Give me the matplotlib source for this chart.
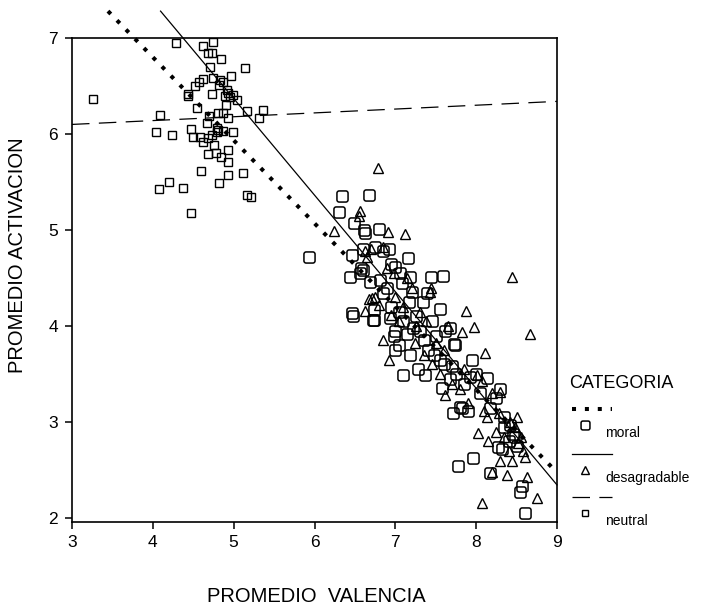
import numpy as np
import matplotlib
matplotlib.use("Agg")
import matplotlib.pyplot as plt
from matplotlib.path import Path

plt.rcParams['font.family'] = ['Liberation Sans', 'DejaVu Sans']

# ---- data ------------------------------------------------------------------
moral_x = [6.34, 6.67, 6.30, 6.49, 6.61, 6.62, 6.80, 5.93, 6.46, 6.44, 6.56, 6.69,
           6.81, 7.06, 7.16, 7.18, 6.60, 6.75, 6.85, 6.58, 6.60, 6.92, 6.95, 7.00,
           7.44, 7.59, 7.39, 7.55, 7.68, 7.73, 6.46, 6.48, 6.72, 6.85, 6.95, 6.73,
           6.73, 6.94, 7.08, 7.20, 7.17, 7.34, 7.05, 7.10, 7.25, 7.45, 7.00, 7.15,
           7.30, 7.50, 7.62, 7.74, 7.95, 7.10, 7.37, 7.18, 7.40, 7.58, 7.68, 7.92,
           8.00, 7.80, 8.13, 7.71, 7.83, 7.90, 8.17, 8.35, 8.35, 8.42, 8.27, 8.32,
           7.96, 7.78, 8.17, 8.57, 8.54, 8.60, 8.45, 8.48, 8.40, 8.50, 7.00, 7.05,
           6.98, 7.22, 7.35, 7.48, 7.60, 7.70, 7.85, 7.75, 8.05, 8.25, 8.30, 6.90,
           7.28, 7.55]
moral_y = [5.35, 5.37, 5.19, 5.07, 5.00, 4.97, 5.01, 4.72, 4.74, 4.51, 4.55, 4.46,
           4.48, 4.55, 4.71, 4.51, 4.80, 4.82, 4.78, 4.60, 4.58, 4.80, 4.65, 4.62,
           4.51, 4.52, 4.34, 4.18, 3.98, 3.81, 4.14, 4.10, 4.06, 4.34, 4.20, 4.17,
           4.06, 4.08, 4.45, 4.36, 4.25, 4.25, 4.15, 4.05, 4.10, 4.05, 3.95, 3.92,
           3.95, 3.90, 3.95, 3.80, 3.65, 3.49, 3.49, 3.70, 3.75, 3.36, 3.45, 3.47,
           3.50, 3.16, 3.46, 3.09, 3.15, 3.12, 3.15, 3.05, 2.95, 2.97, 2.74, 2.72,
           2.63, 2.54, 2.47, 2.33, 2.27, 2.05, 2.88, 2.84, 2.80, 2.75, 3.75, 3.80,
           3.90, 3.98, 3.85, 3.70, 3.60, 3.58, 3.40, 3.50, 3.30, 3.25, 3.35, 4.40,
           3.55, 3.65]

desag_x = [6.79, 6.56, 6.55, 6.24, 6.91, 7.12, 6.90, 6.65, 6.70, 6.62, 6.85, 6.62,
           6.68, 6.75, 6.71, 6.80, 7.43, 7.44, 7.87, 7.97, 7.83, 7.65, 6.85, 6.92,
           7.24, 7.50, 7.61, 8.01, 8.07, 8.30, 7.90, 8.10, 8.14, 8.28, 8.42, 8.02,
           8.52, 8.40, 8.44, 8.63, 8.75, 8.07, 8.20, 8.60, 8.44, 8.67, 8.11, 7.00,
           7.10, 7.20, 7.25, 7.30, 7.05, 6.95, 7.35, 7.45, 7.55, 7.60, 7.70, 7.80,
           7.85, 8.20, 8.25, 8.35, 8.48, 8.55, 8.58, 8.30, 8.38, 7.15, 6.98, 7.38,
           8.50, 8.15]
desag_y = [5.65, 5.20, 5.15, 4.99, 4.98, 4.96, 4.60, 4.72, 4.80, 4.78, 4.82, 4.16,
           4.28, 4.30, 4.29, 4.22, 4.35, 4.40, 4.16, 3.99, 3.94, 4.00, 3.86, 3.65,
           3.82, 3.82, 3.28, 3.49, 3.43, 3.31, 3.20, 3.12, 3.05, 3.10, 3.00, 2.89,
           2.78, 2.70, 2.60, 2.43, 2.21, 2.16, 2.48, 2.64, 4.51, 3.92, 3.72, 4.30,
           4.20, 4.40, 4.00, 4.15, 4.05, 4.12, 3.70, 3.60, 3.50, 3.75, 3.40, 3.35,
           3.55, 3.30, 2.90, 2.85, 2.95, 2.85, 2.70, 2.60, 2.45, 4.50, 4.55, 4.05,
           3.05, 2.80]

neutral_x = [4.29, 4.62, 4.74, 4.68, 4.73, 4.84, 5.14, 4.71, 4.97, 4.74, 4.62, 4.57,
             4.52, 4.83, 4.87, 4.82, 4.44, 4.43, 4.73, 4.92, 4.93, 4.89, 4.95, 4.99,
             5.04, 4.91, 3.26, 4.55, 5.16, 5.36, 5.31, 4.09, 4.70, 4.81, 4.87, 4.93,
             4.67, 4.79, 4.81, 4.87, 4.99, 4.47, 4.04, 4.24, 4.50, 4.58, 4.62, 4.68,
             4.73, 4.79, 4.76, 4.93, 4.68, 4.78, 4.84, 4.93, 4.60, 5.12, 4.93, 4.82,
             4.20, 4.08, 4.37, 5.16, 5.21, 4.47]
neutral_y = [6.95, 6.92, 6.96, 6.84, 6.84, 6.78, 6.69, 6.70, 6.60, 6.58, 6.57, 6.54,
             6.50, 6.56, 6.54, 6.51, 6.42, 6.40, 6.42, 6.46, 6.43, 6.40, 6.39, 6.41,
             6.35, 6.30, 6.36, 6.27, 6.24, 6.25, 6.17, 6.20, 6.19, 6.22, 6.22, 6.17,
             6.11, 6.06, 6.04, 6.03, 6.02, 6.05, 6.02, 5.99, 5.97, 5.97, 5.92, 5.96,
             5.99, 6.02, 5.89, 5.83, 5.79, 5.80, 5.76, 5.71, 5.62, 5.59, 5.57, 5.49,
             5.50, 5.43, 5.44, 5.36, 5.34, 5.18]

categories = ["moral", "desagradable", "neutral"]
# linear fit lines (intercept, slope) per category
fit_intercept = [10.26, 11.40, 5.98]
fit_slope = [-0.865, -1.006, 0.04]

# ---- styles --------------------------------------------------------------
r = 0.4
rounded_square = Path(
    [(-1 + r, -1), (1 - r, -1), (1, -1), (1, -1 + r), (1, 1 - r), (1, 1), (1 - r, 1),
     (-1 + r, 1), (-1, 1), (-1, 1 - r), (-1, -1 + r), (-1, -1), (-1 + r, -1),
     (-1 + r, -1)],
    [Path.MOVETO, Path.LINETO, Path.CURVE3, Path.CURVE3, Path.LINETO, Path.CURVE3,
     Path.CURVE3, Path.LINETO, Path.CURVE3, Path.CURVE3, Path.LINETO, Path.CURVE3,
     Path.CURVE3, Path.CLOSEPOLY])

markers = [rounded_square, "^", "s"]
msizes = [8.0, 7.0, 5.2]
mews = [1.1, 1.0, 1.0]
line_styles = [dict(linestyle=(0, (1, 2.2)), linewidth=2.9, dash_capstyle="butt"),
               dict(linestyle="-", linewidth=0.9),
               dict(linestyle=(0, (14, 7.5)), linewidth=0.9)]
xs = [moral_x, desag_x, neutral_x]
ys = [moral_y, desag_y, neutral_y]

fig = plt.figure(figsize=(7.11, 6.06), dpi=100)
ax = fig.add_axes([72 / 711, 1 - 521.5 / 606, 485 / 711, 483.5 / 606])

for i, cat in enumerate(categories):
    ax.plot(xs[i], ys[i], linestyle="none", marker=markers[i], ms=msizes[i],
            mfc="none", mec="black", mew=mews[i])

# fit lines, drawn from where they leave the top of the picture down to x = 9
y_top = 7.28
for i, cat in enumerate(categories):
    b, m = fit_intercept[i], fit_slope[i]
    if m < 0:
        x0 = (y_top - b) / m
    else:
        x0 = 3.0
    xx = np.array([x0, 9.0])
    ax.plot(xx, b + m * xx, color="black", clip_on=False, **line_styles[i])

ax.set_xlim(3, 9)
ax.set_ylim(1.965, 7)
ax.set_xticks(range(3, 10))
ax.set_yticks(range(2, 8))
for sp in ax.spines.values():
    sp.set_linewidth(1.2)
ax.tick_params(direction="out", length=5, width=1.1, labelsize=12.5, pad=5)

fig.text(316 / 711, 1 - 596 / 606, "PROMEDIO  VALENCIA", ha="center", va="center",
         fontsize=14.5)
fig.text(18 / 711, 1 - 255 / 606, "PROMEDIO ACTIVACION", ha="center", va="center",
         rotation=90, fontsize=14.5)

# legend, drawn by hand like the original
lg = fig.add_axes([0, 0, 1, 1], facecolor="none")
lg.set_xlim(0, 711)
lg.set_ylim(606, 0)
lg.set_axis_off()
lg.text(569, 383, "CATEGORIA", fontsize=13, va="center", ha="left")
row_y = [409, 454, 497]
for i, cat in enumerate(categories):
    y0 = row_y[i]
    lg.plot([572, 612], [y0, y0], color="black", **line_styles[i])
    lg.plot([585], [y0 + 16], linestyle="none", marker=markers[i], ms=msizes[i] * 0.8,
            mfc="none", mec="black", mew=mews[i])
    lg.text(605, y0 + 24, cat, fontsize=10, va="center", ha="left")

fig.savefig("out.png", dpi=100)
